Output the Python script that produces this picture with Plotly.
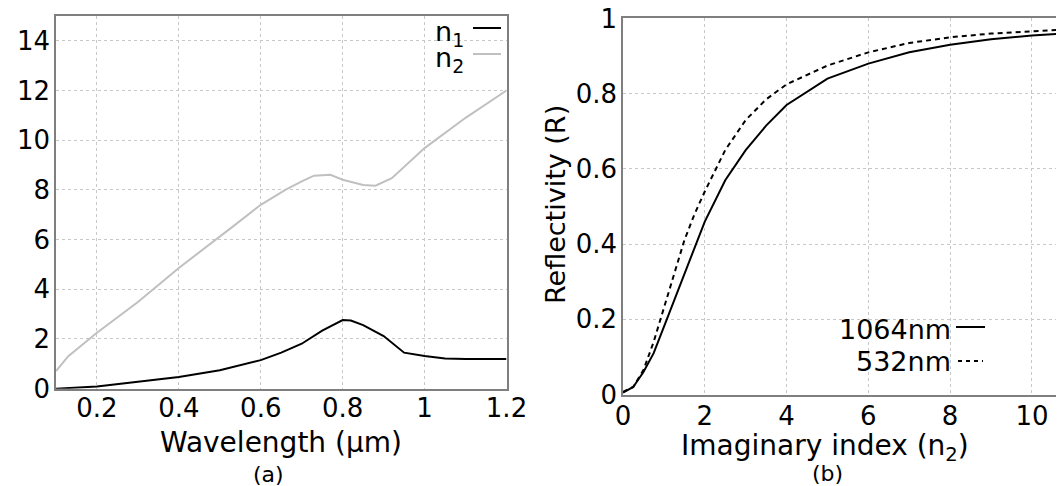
import plotly.graph_objects as go

# panel (a): optical constants vs wavelength
wl_n1 = [0.10, 0.15, 0.20, 0.30, 0.40, 0.50, 0.60, 0.65, 0.70, 0.75, 0.80, 0.82, 0.85, 0.90, 0.95, 1.00, 1.05, 1.10, 1.20]
n1 = [0.0, 0.04, 0.09, 0.28, 0.47, 0.74, 1.15, 1.45, 1.81, 2.34, 2.76, 2.74, 2.56, 2.12, 1.45, 1.32, 1.22, 1.20, 1.20]

wl_n2 = [0.10, 0.13, 0.20, 0.30, 0.40, 0.50, 0.53, 0.60, 0.66, 0.70, 0.73, 0.77, 0.80, 0.85, 0.88, 0.92, 0.96, 1.00, 1.10, 1.20]
n2 = [0.71, 1.31, 2.25, 3.49, 4.86, 6.10, 6.50, 7.40, 8.00, 8.34, 8.57, 8.61, 8.41, 8.20, 8.17, 8.47, 9.08, 9.68, 10.9, 12.0]

# panel (b): reflectivity vs imaginary index
k_vals = [0, 0.25, 0.5, 0.75, 1.0, 1.25, 1.5, 1.75, 2.0, 2.5, 3, 3.5, 4, 5, 6, 7, 8, 9, 10, 11, 12]
r_1064 = [0.005, 0.02, 0.06, 0.11, 0.18, 0.25, 0.32, 0.39, 0.46, 0.57, 0.65, 0.715, 0.77, 0.84, 0.88, 0.91, 0.93, 0.945, 0.955, 0.962, 0.968]
r_532 = [0.007, 0.02, 0.065, 0.14, 0.23, 0.32, 0.41, 0.48, 0.54, 0.65, 0.73, 0.785, 0.825, 0.875, 0.91, 0.935, 0.95, 0.96, 0.967, 0.972, 0.976]

FONT = "DejaVu Sans, Verdana, sans-serif"
W, H = 1064, 486
FRAME = "#7f7f7f"
GRID = "#c8c8c8"


def px_x(v):
    return v / W


def px_y(v):
    return 1 - v / H


fig = go.Figure()
fig.add_trace(go.Scatter(x=wl_n1, y=n1, mode="lines", line={"color": "black", "width": 2}, xaxis="x", yaxis="y"))
fig.add_trace(go.Scatter(x=wl_n2, y=n2, mode="lines", line={"color": "#c0c0c0", "width": 2}, xaxis="x", yaxis="y"))
fig.add_trace(go.Scatter(x=k_vals, y=r_1064, mode="lines", line={"color": "black", "width": 2}, xaxis="x2", yaxis="y2"))
fig.add_trace(go.Scatter(x=k_vals, y=r_532, mode="lines", line={"color": "black", "width": 2, "dash": "5px,4px"}, xaxis="x2", yaxis="y2"))

axis_common = dict(
    showline=True, linecolor=FRAME, linewidth=1.5, showgrid=True, gridcolor=GRID, gridwidth=1,
    griddash="dot", zeroline=False, ticks="", tickfont={"size": 26, "color": "black", "family": FONT},
    ticklabeloverflow="allow", automargin=False,
)

fig.update_layout(
    width=W, height=H,
    paper_bgcolor="white", plot_bgcolor="white",
    margin={"l": 0, "r": 0, "t": 0, "b": 0},
    showlegend=False,
    font={"family": FONT, "color": "black"},
    xaxis=dict(axis_common, domain=[px_x(48), px_x(498.5)], range=[0.1, 1.2], tickvals=[0.2, 0.4, 0.6, 0.8, 1.0, 1.2],
               ticktext=["0.2", "0.4", "0.6", "0.8", "1", "1.2"], mirror=True, anchor="y", ticklabelstandoff=-5),
    yaxis=dict(axis_common, domain=[px_y(380.7), px_y(7.9)], range=[0, 15], tickvals=[0, 2, 4, 6, 8, 10, 12, 14],
               mirror=True, anchor="x", ticklabelstandoff=-1),
    xaxis2=dict(axis_common, domain=[px_x(615), 1.0], range=[0, 10.98], tickvals=[0, 2, 4, 6, 8, 10],
                mirror=True, anchor="y2", ticklabelstandoff=-2),
    yaxis2=dict(axis_common, domain=[px_y(386.5), px_y(10.4)], range=[0, 1.0003], tickvals=[0, 0.2, 0.4, 0.6, 0.8, 1],
                ticktext=["0", "0.2", "0.4", "0.6", "0.8", "1"], mirror=False, anchor="x2", ticklabelstandoff=-1),
)

annotations = [
    dict(text="Wavelength (\u03bcm)", x=px_x(273), y=px_y(434), size=28),
    dict(text="(a)", x=px_x(260), y=px_y(466), size=22),
    dict(text="Imaginary index (n<sub>2</sub>)", x=px_x(817), y=px_y(439), size=28),
    dict(text="(b)", x=px_x(819), y=px_y(465), size=22),
]
for a in annotations:
    fig.add_annotation(text=a["text"], x=a["x"], y=a["y"], xref="paper", yref="paper", showarrow=False,
                       xanchor="center", yanchor="middle", font={"size": a["size"], "color": "black", "family": FONT})

fig.add_annotation(text="Reflectivity (R)", x=px_x(547), y=px_y(197), xref="paper", yref="paper", showarrow=False,
                   textangle=-90, xanchor="center", yanchor="middle", font={"size": 27, "color": "black", "family": FONT})

# legend entries: text on the left, line sample on the right
legend_items = [
    ("n<sub>1</sub>", 458, 25, 465, 493, 20, "black", "solid"),
    ("n<sub>2</sub>", 458, 51, 465, 493, 46, "#c0c0c0", "solid"),
    ("1064nm", 945, 321, 948, 977, 319, "black", "solid"),
    ("532nm", 945, 353, 950, 975, 353, "black", "4px,4px"),
]
for label, tx, ty, x0, x1, ly, color, dash in legend_items:
    fig.add_annotation(text=label, x=px_x(tx), y=px_y(ty), xref="paper", yref="paper", showarrow=False,
                       xanchor="right", yanchor="middle", font={"size": 27, "color": "black", "family": FONT})
    fig.add_shape(type="line", xref="paper", yref="paper", x0=px_x(x0), x1=px_x(x1), y0=px_y(ly), y1=px_y(ly),
                  line={"color": color, "width": 2, "dash": dash})

fig.write_html("out.html")
